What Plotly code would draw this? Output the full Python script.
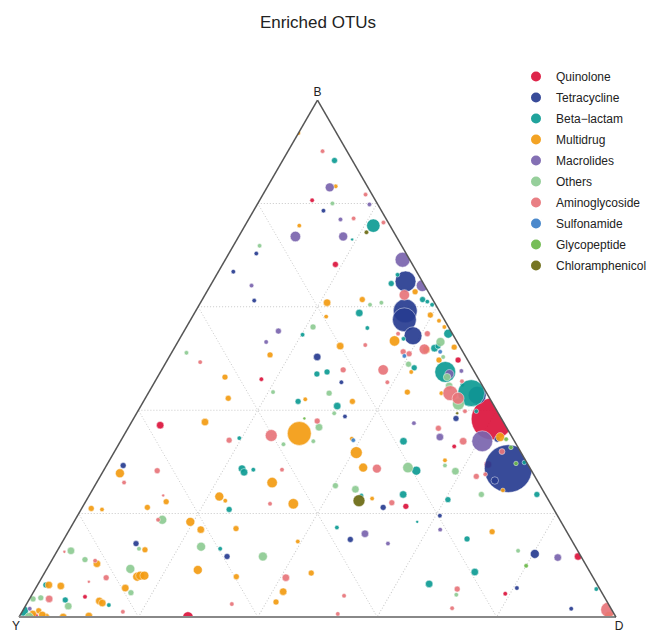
import plotly.graph_objects as go

# Each point: (B %, Y %, D %, relative abundance)
quinolone = [
    (80.6, 10.6, 8.8, 0.09), (68.2, 12.9, 18.9, 0.16), (46.0, 36.4, 17.6, 0.09),
    (37.1, 57.8, 5.1, 0.25), (49.7, 1.6, 48.7, 0.16), (38.3, 1.6, 60.1, 7.84),
    (33.0, 10.6, 56.4, 0.09), (29.5, 6.7, 63.8, 0.25), (21.4, 24.5, 54.1, 0.16),
    (11.7, 0.5, 87.8, 0.25), (4.5, 16.3, 79.2, 0.09), (3.9, 87.0, 9.1, 0.09),
    (0.0, 71.7, 28.3, 0.49), (0.2, 97.2, 2.6, 0.16),
]
tetracycline = [
    (78.6, 9.7, 11.7, 0.09), (70.3, 25.1, 4.6, 0.09), (66.8, 30.7, 2.5, 0.09),
    (61.2, 30.0, 8.8, 0.09), (64.9, 2.8, 32.3, 1.96), (59.2, 5.7, 35.1, 2.56),
    (57.5, 6.7, 35.8, 2.56), (54.4, 6.8, 38.8, 1.44), (50.3, 24.9, 24.8, 0.25),
    (42.9, 1.8, 55.3, 1.44), (45.4, 23.3, 31.3, 0.09), (38.8, 26.0, 35.2, 0.09),
    (38.4, 7.6, 54.0, 0.16), (34.4, 2.7, 62.9, 0.16), (28.7, 3.7, 67.6, 10.24),
    (26.4, 7.1, 66.5, 0.25), (29.3, 67.9, 2.8, 0.16), (21.2, 28.4, 50.4, 0.16),
    (15.0, 37.0, 48.0, 0.16), (19.6, 19.7, 60.7, 0.09), (12.2, 7.5, 80.3, 0.36),
    (5.6, 13.8, 80.6, 0.09), (1.6, 6.7, 91.7, 0.09), (14.2, 73.3, 12.5, 0.16),
    (11.7, 59.3, 29.0, 0.16),
]
beta_lactam = [
    (88.3, 3.0, 8.7, 0.16), (75.7, 2.8, 21.5, 0.81), (73.0, 7.7, 19.3, 0.04),
    (66.2, 3.5, 30.3, 0.09), (64.5, 5.4, 30.1, 0.16), (61.4, 1.7, 36.9, 0.16),
    (61.0, 1.1, 37.9, 0.09), (60.4, 0.6, 39.0, 0.09), (58.8, 13.6, 27.6, 0.25),
    (55.9, 13.7, 30.4, 0.09), (53.8, 8.7, 37.5, 0.09), (54.8, 0.7, 44.5, 0.36),
    (52.0, 4.4, 43.6, 0.25), (52.4, 3.6, 44.0, 0.16), (48.2, 9.7, 42.1, 0.16),
    (47.4, 4.9, 47.7, 1.96), (44.9, 3.3, 51.8, 0.09), (43.3, 2.6, 54.1, 3.24),
    (40.8, 26.3, 32.9, 0.25), (39.8, 3.5, 56.7, 0.09), (34.0, 18.6, 47.4, 0.25),
    (28.3, 19.3, 52.4, 0.36), (29.9, 0.4, 69.7, 0.09), (22.7, 16.8, 60.5, 0.16),
    (23.7, 1.4, 74.9, 0.16), (54.6, 25.2, 20.2, 0.09), (47.0, 26.6, 26.4, 0.16),
    (47.4, 24.7, 27.9, 0.16), (41.7, 32.4, 25.9, 0.16), (34.6, 45.8, 19.6, 0.09),
    (28.7, 48.3, 23.0, 0.25), (28.0, 48.3, 23.7, 0.25), (28.5, 46.5, 25.0, 0.09),
    (20.8, 54.4, 24.8, 0.16), (23.5, 30.9, 45.6, 0.09), (23.7, 23.8, 52.5, 0.25),
    (17.3, 38.1, 44.6, 0.09), (18.4, 24.1, 57.5, 0.04), (15.1, 17.4, 67.5, 0.16),
    (8.7, 19.3, 72.0, 0.25), (6.4, 28.1, 65.5, 0.25), (5.4, 0.6, 94.0, 0.09),
    (13.2, 59.7, 27.1, 0.09), (6.2, 92.4, 1.4, 0.16), (3.3, 90.6, 6.1, 0.16),
    (2.3, 83.8, 13.9, 0.09), (1.2, 98.7, 0.1, 0.49),
]
multidrug = [
    (93.6, 6.4, 0.0, 0.09), (83.3, 5.3, 11.4, 0.09), (75.7, 15.2, 9.1, 0.09),
    (62.9, 2.2, 34.9, 0.16), (60.8, 18.0, 21.2, 0.25), (61.4, 11.8, 26.8, 0.16),
    (58.1, 19.5, 22.4, 0.09), (58.4, 1.9, 39.7, 0.16), (57.3, 1.0, 41.7, 0.09),
    (56.1, 0.7, 43.2, 0.09), (53.4, 10.4, 36.2, 0.49), (52.4, 20.0, 27.6, 0.25),
    (51.7, 5.9, 42.4, 0.25), (52.2, 1.0, 46.8, 0.16), (49.7, 4.8, 45.5, 0.16),
    (47.4, 10.6, 42.0, 0.09), (43.3, 7.6, 49.1, 0.09), (43.5, 13.2, 43.3, 0.16),
    (41.7, 23.3, 35.0, 0.16), (34.8, 2.0, 63.2, 0.36), (31.8, 27.6, 40.6, 0.64),
    (30.3, 13.5, 56.2, 0.09), (28.9, 27.9, 43.2, 0.36), (24.5, 6.7, 68.8, 0.09),
    (50.7, 32.6, 16.7, 0.16), (46.4, 42.3, 11.3, 0.16), (42.3, 43.8, 13.9, 0.16),
    (42.1, 31.0, 26.9, 0.09), (37.7, 50.0, 12.3, 0.25), (35.5, 35.3, 29.2, 2.56),
    (26.0, 44.6, 29.4, 0.49), (23.3, 54.8, 21.9, 0.36), (22.5, 54.2, 23.3, 0.09),
    (21.9, 43.1, 35.0, 0.49), (27.8, 69.2, 3.0, 0.36), (22.3, 64.2, 13.5, 0.16),
    (21.0, 77.4, 1.6, 0.16), (20.8, 75.7, 3.5, 0.09), (21.2, 67.9, 10.9, 0.16),
    (18.4, 62.1, 19.5, 0.36), (16.9, 61.1, 22.0, 0.25), (17.1, 55.1, 27.8, 0.16),
    (22.9, 29.4, 47.7, 0.09), (14.6, 46.0, 39.4, 0.09), (8.5, 46.8, 44.7, 0.16),
    (4.9, 53.3, 41.8, 0.25), (2.9, 55.5, 41.6, 0.16), (7.8, 59.7, 32.5, 0.16),
    (9.1, 65.5, 25.4, 0.36), (13.0, 72.4, 14.6, 0.16), (7.8, 76.3, 15.9, 0.36),
    (8.0, 75.7, 16.3, 0.36), (8.0, 75.0, 17.0, 0.36), (5.6, 79.4, 15.0, 0.25),
    (10.3, 81.8, 7.9, 0.25), (6.2, 91.9, 1.9, 0.25), (6.0, 90.0, 4.0, 0.25),
    (3.1, 85.0, 11.9, 0.25), (2.7, 84.7, 12.6, 0.25), (0.0, 92.6, 7.4, 0.25),
    (0.2, 88.2, 11.6, 0.25), (1.2, 96.1, 2.7, 0.16), (0.0, 95.5, 4.5, 0.25),
    (0.6, 97.4, 2.0, 0.25), (0.4, 95.9, 3.7, 0.25), (16.5, 12.5, 71.0, 0.16),
    (0.2, 1.1, 98.7, 0.36), (34.5, 27.0, 38.5, 0.09),
]
macrolides = [
    (83.1, 6.4, 10.5, 0.36), (79.8, 1.4, 18.8, 0.09), (76.9, 7.7, 15.4, 0.09),
    (73.6, 16.9, 9.5, 0.49), (73.6, 8.9, 17.5, 0.36), (64.1, 29.0, 6.9, 0.09),
    (69.1, 1.2, 29.7, 1.0), (64.1, 0.4, 35.5, 0.64), (55.3, 28.9, 15.8, 0.16),
    (53.2, 32.0, 14.8, 0.09), (47.6, 2.1, 50.3, 0.09), (47.0, 4.4, 48.6, 0.36),
    (37.5, 15.1, 47.4, 0.09), (34.8, 12.1, 53.1, 0.25), (34.0, 5.4, 60.6, 1.96),
    (16.1, 34.0, 49.9, 0.25), (14.2, 31.1, 54.7, 0.09), (16.9, 21.0, 62.1, 0.09),
    (11.5, 4.0, 84.5, 0.25), (1.6, 97.4, 1.0, 0.09),
]
others = [
    (80.0, 7.5, 12.5, 0.09), (71.8, 23.8, 4.4, 0.09), (60.4, 11.0, 28.6, 0.09),
    (60.8, 8.9, 30.3, 0.09), (56.1, 22.7, 21.2, 0.16), (53.2, 2.8, 44.0, 0.36),
    (50.3, 3.8, 45.9, 0.09), (48.9, 10.3, 40.8, 0.16), (46.4, 5.1, 48.5, 0.25),
    (44.7, 5.6, 49.7, 0.25), (41.2, 5.8, 53.0, 0.64), (43.5, 35.7, 20.8, 0.09),
    (43.3, 26.4, 30.3, 0.16), (39.4, 27.5, 33.1, 0.09), (36.7, 31.4, 31.9, 0.25),
    (33.4, 39.0, 27.6, 0.09), (34.0, 33.7, 32.3, 0.09), (29.3, 14.0, 56.7, 0.09),
    (28.2, 12.8, 59.0, 0.25), (28.9, 20.4, 50.7, 0.49), (23.7, 10.7, 65.6, 0.16),
    (25.4, 34.3, 40.3, 0.16), (24.7, 31.3, 44.0, 0.25), (51.1, 46.4, 2.5, 0.09),
    (18.8, 66.6, 14.6, 0.36), (11.7, 53.3, 35.0, 0.36), (13.6, 62.7, 23.7, 0.36),
    (13.2, 73.3, 13.5, 0.09), (12.8, 84.9, 2.3, 0.25), (11.1, 83.4, 5.5, 0.16),
    (9.3, 76.7, 14.0, 0.36), (4.7, 78.9, 16.4, 0.16), (3.5, 95.9, 0.6, 0.16),
    (3.7, 94.5, 1.8, 0.16), (2.1, 90.7, 7.2, 0.25), (0.0, 98.3, 1.7, 0.36),
    (12.8, 10.0, 77.2, 0.09), (4.3, 24.6, 71.1, 0.09),
]
aminoglycoside = [
    (90.1, 4.1, 5.8, 0.09), (81.7, 1.1, 17.2, 0.09), (77.1, 5.4, 17.5, 0.09),
    (76.3, 0.8, 22.9, 0.09), (62.3, 4.3, 33.4, 0.49), (54.8, 9.1, 36.1, 0.09),
    (54.8, 4.2, 41.0, 0.16), (52.6, 15.7, 31.7, 0.09), (51.8, 6.2, 42.0, 0.49),
    (51.3, 10.0, 38.7, 0.16), (50.9, 9.2, 39.9, 0.16), (47.8, 15.1, 37.1, 0.49),
    (47.8, 21.8, 30.4, 0.16), (45.6, 3.0, 51.4, 0.09), (45.4, 15.6, 39.0, 0.09),
    (43.3, 6.1, 50.6, 1.0), (42.3, 5.3, 52.4, 0.64), (39.8, 5.4, 54.8, 0.09),
    (36.5, 11.5, 52.0, 0.16), (34.0, 8.6, 57.4, 0.25), (32.0, 3.1, 64.9, 0.16),
    (27.2, 9.8, 63.0, 0.16), (27.6, 8.1, 64.3, 0.09), (28.7, 25.7, 45.6, 0.36),
    (37.9, 31.1, 31.0, 0.16), (49.3, 45.0, 5.7, 0.09), (35.1, 40.2, 24.7, 0.64),
    (34.2, 47.7, 18.1, 0.16), (28.5, 41.7, 29.8, 0.09), (21.9, 47.0, 31.1, 0.09),
    (22.1, 26.5, 51.4, 0.16), (28.3, 62.7, 9.0, 0.16), (26.0, 69.4, 4.6, 0.09),
    (23.5, 64.1, 12.4, 0.04), (18.8, 67.3, 13.9, 0.09), (7.6, 51.5, 40.9, 0.25),
    (4.1, 43.5, 52.4, 0.09), (0.6, 46.3, 53.1, 0.09), (2.5, 63.1, 34.4, 0.09),
    (12.6, 86.1, 1.3, 0.04), (10.9, 81.8, 7.3, 0.09), (6.8, 84.9, 8.3, 0.04),
    (7.6, 81.6, 10.8, 0.16), (3.5, 93.2, 3.3, 0.25), (1.0, 82.1, 16.9, 0.09),
    (5.4, 23.9, 70.7, 0.16), (1.7, 26.6, 71.7, 0.09), (1.4, 0.6, 98.0, 1.0),
]
sulfonamide = [
    (51.3, 3.8, 44.9, 0.09), (50.5, 10.2, 39.3, 0.09), (34.2, 26.9, 38.9, 0.09),
]
glycopeptide = [
    (34.4, 1.2, 64.4, 0.09), (32.8, 1.2, 66.0, 0.09), (29.7, 1.9, 68.4, 0.09),
    (38.4, 33.0, 28.6, 0.04), (9.9, 10.1, 80.0, 0.09),
]
chloramphenicol = [
    (74.4, 4.6, 21.0, 0.09), (22.5, 31.8, 45.7, 0.64), (39.4, 6.9, 53.7, 0.04),
]

categories = ["Quinolone", "Tetracycline", "Beta\u2212lactam", "Multidrug", "Macrolides",
              "Others", "Aminoglycoside", "Sulfonamide", "Glycopeptide", "Chloramphenicol"]
series = [quinolone, tetracycline, beta_lactam, multidrug, macrolides,
          others, aminoglycoside, sulfonamide, glycopeptide, chloramphenicol]
colors = ["#DC143C", "#283C91", "#0E9C94", "#F39C12", "#7A64AE",
          "#8ECB93", "#E8757A", "#3C80C8", "#6CB94A", "#6B6A12"]

fig = go.Figure()
for name, pts, col in zip(categories, series, colors):
    fig.add_trace(go.Scatterternary(
        a=[p[0] for p in pts], b=[p[1] for p in pts], c=[p[2] for p in pts],
        mode="markers", name=name, legendgroup=name,
        marker=dict(size=[p[3] for p in pts], sizemode="area", sizeref=0.009,
                    color=col, opacity=0.92, line=dict(color="white", width=0.5)),
    ))

axis_common = dict(showticklabels=False, ticks="", dtick=20, showgrid=True,
                   gridcolor="#c8c8c8", griddash="1px,2px", gridwidth=1)
fig.update_layout(
    width=663, height=634,
    margin=dict(l=0, r=0, t=0, b=0, autoexpand=False),
    paper_bgcolor="white",
    font=dict(family="Liberation Sans, Arial, sans-serif", color="#222"),
    title=dict(text="Enriched OTUs", x=318/663, xanchor="center",
               y=1 - 22/634, yanchor="middle", font=dict(size=17, color="#222")),
    ternary=dict(
        sum=100,
        bgcolor="white",
        domain=dict(x=[19/663, 616/663], y=[17/634, 534/634]),
        aaxis=dict(title=dict(text="B", font=dict(size=12, color="#222")),
                   linecolor="#555", linewidth=1.5, **axis_common),
        baxis=dict(title=dict(text="Y", font=dict(size=12, color="#222")),
                   linecolor="#888", linewidth=2, **axis_common),
        caxis=dict(title=dict(text="D", font=dict(size=12, color="#222")),
                   linecolor="#555", linewidth=1.5, **axis_common),
    ),
    legend=dict(x=516/663, y=1 - 62/634, xanchor="left", yanchor="top",
                itemsizing="constant", tracegroupgap=2,
                font=dict(size=12, color="#222"),
                bgcolor="rgba(0,0,0,0)"),
)

fig.write_html("out.html", config={"displayModeBar": False},
               post_script="document.body.style.margin='0';")
